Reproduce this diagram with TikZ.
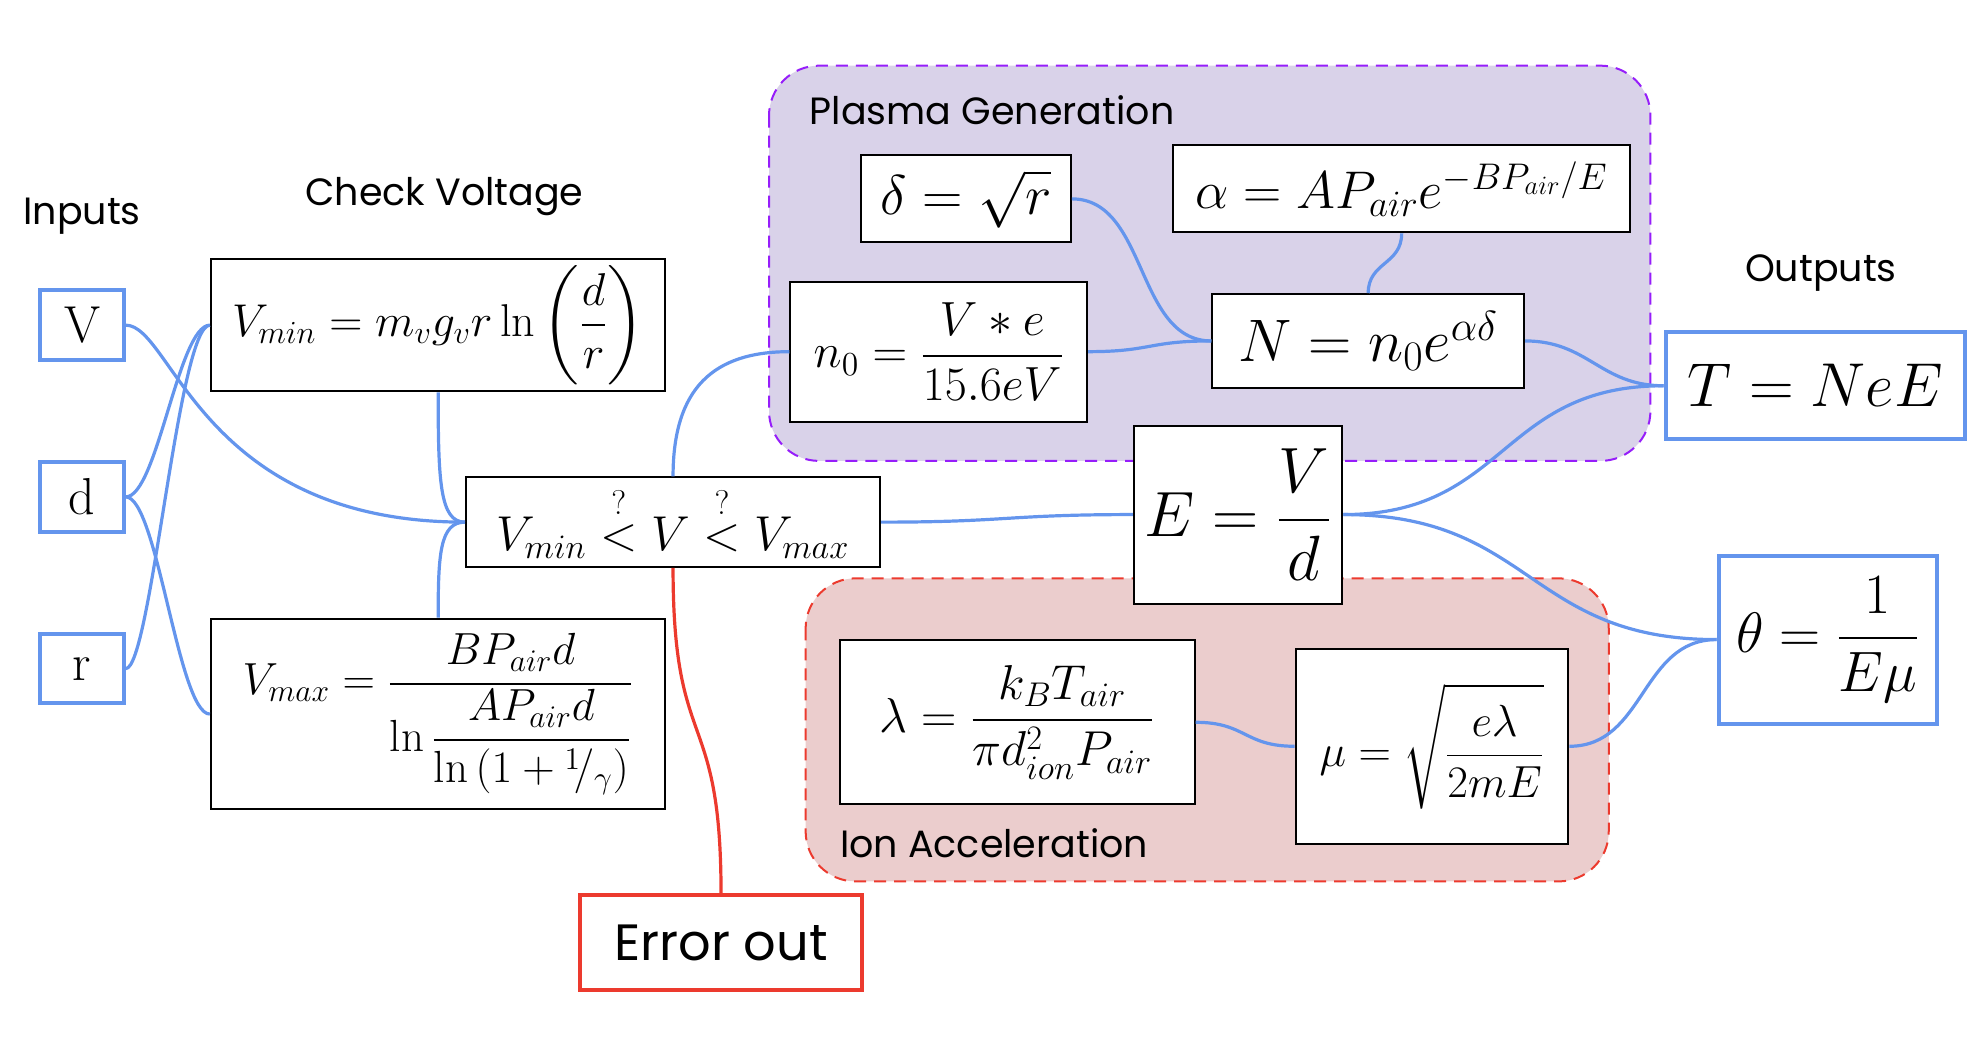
\RequirePackage{fix-cm}
\documentclass[tikz,border=0pt]{standalone}
\usepackage{amsmath}
\usepackage{fontspec}
\newfontfamily\labfont{Poppins}
\usetikzlibrary{calc}
\definecolor{cblue}{RGB}{100,149,237}
\definecolor{cred}{RGB}{236,58,46}
\definecolor{cpurple}{RGB}{150,30,250}
\definecolor{lav}{RGB}{217,210,233}
\definecolor{pinkfill}{RGB}{235,205,205}
\newcommand\bx[7]{\node[#6, minimum width={(#4-#2)*0.6314pt}, minimum height={(#5-#3)*0.6314pt}] (#1) at ({(#2+#4)/2},{(#3+#5)/2}) {#7};}
\newcommand\fs[1]{\fontsize{#1}{#1}\selectfont}
\tikzset{
  eqbox/.style={draw=black, line width=1pt, fill=white, inner sep=0pt},
  inbox/.style={draw=cblue, line width=2pt, fill=white, inner sep=0pt},
  errbox/.style={draw=cred, line width=2pt, fill=white, inner sep=0pt},
  wire/.style={draw=cblue, line width=1.6pt},
  errwire/.style={draw=cred, line width=1.6pt},
  lbl/.style={inner sep=0pt, font=\labfont\fs{19}},
  grp/.style={line width=1pt, dashed, dash pattern=on 6pt off 4pt, rounded corners=25pt},
}
\begin{document}
\begin{tikzpicture}[x=0.6314pt, y=-0.6314pt]
\useasboundingbox (0,0) rectangle (1568,824);
% groups
\draw[grp, draw=cpurple, fill=lav] (609,52) rectangle (1307,365);
\draw[grp, draw=cred, fill=pinkfill] (638,458) rectangle (1274,698);
% labels
\node[lbl] (linputs) at (65,171) {Inputs};
\node[lbl] (lcheck) at (352,156) {Check Voltage};
\node[lbl, anchor=west] (lplasma) at (641,87) {Plasma Generation};
\node[lbl] (loutputs) at (1442,216) {Outputs};
\node[lbl, anchor=west] (lion) at (665,668) {Ion Acceleration};
% inputs
\bx{V}{32}{230}{98}{285}{inbox}{\fs{26}V}
\bx{d}{32}{366}{98}{421}{inbox}{\fs{26}d}
\bx{r}{32}{502}{98}{557}{inbox}{\fs{26}r}
% check voltage
\bx{vmin}{167}{205}{527}{310}{eqbox}{\fs{23}$\displaystyle V_{min} = m_v g_v r \ln\left(\frac{d}{r}\right)$}
\bx{vmax}{167}{490}{527}{641}{eqbox}{\fs{22.5}$\displaystyle V_{max} = \frac{BP_{air}d}{\ln\dfrac{AP_{air}d}{\ln\left(1+{}^{1}\!/_{\gamma}\right)}}$}
\bx{cmp}{369}{378}{697}{449}{eqbox}{\fs{24.5}$V_{min} \overset{?}{<} V \overset{?}{<} V_{max}$}
\bx{err}{459}{709}{683}{784}{errbox}{\labfont\fs{25.5}Error out}
% plasma generation
\bx{delta}{682}{123}{848}{192}{eqbox}{\fs{28}$\delta = \sqrt{r}$}
\bx{alpha}{929}{115}{1291}{184}{eqbox}{\fs{26.5}$\alpha = AP_{air}e^{-BP_{air}/E}$}
\bx{nzero}{626}{223}{861}{334}{eqbox}{\fs{24}$\displaystyle n_0 = \frac{V*e}{15.6eV}$}
\bx{N}{960}{233}{1207}{307}{eqbox}{\fs{30}$N = n_0e^{\alpha\delta}$}
\bx{E}{898}{337}{1063}{478}{eqbox}{\fs{32}$\displaystyle E = \frac{V}{d}$}
% ion acceleration
\bx{lambda}{665}{507}{946}{637}{eqbox}{\fs{24.5}$\displaystyle \lambda = \frac{k_BT_{air}}{\pi d_{ion}^2P_{air}}$}
\bx{mu}{1026}{514}{1242}{668}{eqbox}{\fs{22.5}$\displaystyle \mu = \sqrt{\frac{e\lambda}{2mE}}$}
% outputs
\bx{T}{1319}{263}{1556}{348}{inbox}{\fs{31}$T = NeE$}
\bx{theta}{1361}{440}{1534}{573}{inbox}{\fs{28.5}$\displaystyle \theta = \frac{1}{E\mu}$}
% wires
\draw[wire] (V.east) .. controls ($(V.east)+(37,0)$) and ($(cmp.west)+(-209,0)$) .. (cmp.west);
\draw[wire] (d.east) .. controls ($(d.east)+(25,0)$) and ($(vmin.west)+(-25,0)$) .. (vmin.west);
\draw[wire] (r.east) .. controls ($(r.east)+(20,0)$) and ($(vmin.west)+(-25,0)$) .. (vmin.west);
\draw[wire] (d.east) .. controls ($(d.east)+(25,0)$) and ($(vmax.west)+(-25,0)$) .. (vmax.west);
\draw[wire] (vmin.south) .. controls ($(vmin.south)+(0,70)$) and ($(cmp.west)+(-20,0)$) .. (cmp.west);
\draw[wire] (vmax.north) .. controls ($(vmax.north)+(0,-50)$) and ($(cmp.west)+(-20,0)$) .. (cmp.west);
\draw[wire] (cmp.north) .. controls ($(cmp.north)+(0,-70)$) and ($(nzero.west)+(-60,0)$) .. (nzero.west);
\draw[wire] (cmp.east) .. controls ($(cmp.east)+(100,0)$) and ($(E.west)+(-100,0)$) .. (E.west);
\draw[errwire] (cmp.south) .. controls ($(cmp.south)+(0,150)$) and ($(err.north)+(0,-150)$) .. (err.north);
\draw[wire] (delta.east) .. controls ($(delta.east)+(60,0)$) and ($(N.west)+(-60,0)$) .. (N.west);
\draw[wire] (nzero.east) .. controls ($(nzero.east)+(50,0)$) and ($(N.west)+(-50,0)$) .. (N.west);
\draw[wire] (alpha.south) .. controls ($(alpha.south)+(0,25)$) and ($(N.north)+(0,-25)$) .. (N.north);
\draw[wire] (N.east) .. controls ($(N.east)+(50,0)$) and ($(T.west)+(-50,0)$) .. (T.west);
\draw[wire] (E.east) .. controls ($(E.east)+(130,0)$) and ($(T.west)+(-130,0)$) .. (T.west);
\draw[wire] (E.east) .. controls ($(E.east)+(150,0)$) and ($(theta.west)+(-150,0)$) .. (theta.west);
\draw[wire] (lambda.east) .. controls ($(lambda.east)+(40,0)$) and ($(mu.west)+(-40,0)$) .. (mu.west);
\draw[wire] (mu.east) .. controls ($(mu.east)+(60,0)$) and ($(theta.west)+(-60,0)$) .. (theta.west);
\end{tikzpicture}
\end{document}
